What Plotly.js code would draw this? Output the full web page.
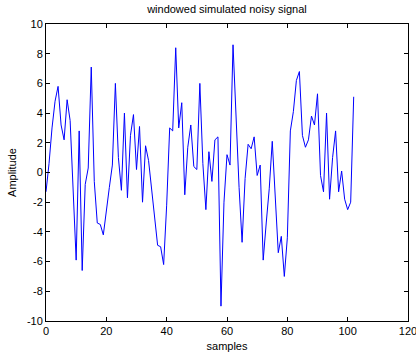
<!DOCTYPE html>
<html>
<head>
<meta charset="utf-8">
<script src="https://cdn.plot.ly/plotly-3.0.1.min.js"></script>
<style>
  html, body { margin: 0; padding: 0; background: #ffffff; }
  #chart { width: 416px; height: 356px; }
</style>
</head>
<body>
<div id="chart"></div>
<script>
// Sample index (0..102)
const samples = [
  0, 1, 2, 3, 4, 5, 6, 7, 8, 9,
  10, 11, 12, 13, 14, 15, 16, 17, 18, 19,
  20, 21, 22, 23, 24, 25, 26, 27, 28, 29,
  30, 31, 32, 33, 34, 35, 36, 37, 38, 39,
  40, 41, 42, 43, 44, 45, 46, 47, 48, 49,
  50, 51, 52, 53, 54, 55, 56, 57, 58, 59,
  60, 61, 62, 63, 64, 65, 66, 67, 68, 69,
  70, 71, 72, 73, 74, 75, 76, 77, 78, 79,
  80, 81, 82, 83, 84, 85, 86, 87, 88, 89,
  90, 91, 92, 93, 94, 95, 96, 97, 98, 99,
  100, 101, 102
];

// Amplitude values
const amplitude = [
  -1.3, 0.6, 3.0, 4.8, 5.8, 3.2, 2.2, 4.9, 3.5, -1.3,
  -5.9, 2.8, -6.6, -0.8, 0.3, 7.1, -0.6, -3.4, -3.5, -4.2,
  -2.4, -1.0, 0.5, 6.0, 1.0, -1.2, 4.0, -1.7, 2.5, 3.9,
  0.2, 3.1, -2.0, 1.8, 0.8, -1.1, -3.0, -4.9, -5.0, -6.2,
  -2.2, 3.0, 2.8, 8.4, 3.0, 4.7, -1.5, 1.7, 3.2, 0.4,
  0.2, 6.0, 0.6, -2.5, 1.4, -0.6, 2.2, 2.4, -9.0, -2.0,
  1.2, 0.5, 8.6, 3.6, -1.0, -4.7, -0.4, 1.9, 1.6, 2.4,
  -0.2, 0.5, -5.9, -3.4, -1.1, 2.1, -2.0, -5.4, -4.3, -7.0,
  -4.4, 2.8, 4.1, 6.2, 6.8, 2.5, 1.7, 2.2, 3.8, 3.2,
  5.3, -0.2, -1.3, 4.0, -1.8, 1.0, 2.8, -1.3, 0.1, -1.8,
  -2.5, -2.0, 5.1
];

const xTicks = [0, 20, 40, 60, 80, 100, 120];
const yTicks = [-10, -8, -6, -4, -2, 0, 2, 4, 6, 8, 10];

const FONT = '"Liberation Sans", Arial, Helvetica, sans-serif';

const trace = {
  x: samples,
  y: amplitude,
  type: 'scatter',
  mode: 'lines',
  line: { color: '#0000ff', width: 1 },
  hoverinfo: 'skip'
};

const axisCommon = {
  showline: true,
  linecolor: '#000000',
  linewidth: 1,
  mirror: 'ticks',
  ticks: 'inside',
  ticklen: 4,
  tickwidth: 1,
  tickcolor: '#000000',
  showgrid: false,
  zeroline: false,
  automargin: false,
  ticklabeloverflow: 'allow',
  tickfont: { family: FONT, size: 11, color: '#000000' }
};

const layout = {
  width: 416,
  height: 356,
  margin: { l: 46, r: 8, t: 24, b: 35, pad: 0 },
  paper_bgcolor: '#ffffff',
  plot_bgcolor: '#ffffff',
  showlegend: false,
  title: {
    text: 'windowed simulated noisy signal',
    font: { family: FONT, size: 11, color: '#000000' },
    x: 0.5455,
    xanchor: 'center',
    y: 0.975,
    yanchor: 'middle'
  },
  xaxis: Object.assign({}, axisCommon, {
    range: [0, 120],
    tickvals: xTicks,
    ticktext: xTicks.map(String),
    title: { text: 'samples', font: { family: FONT, size: 11, color: '#000000' }, standoff: 6 }
  }),
  yaxis: Object.assign({}, axisCommon, {
    range: [-10, 10],
    tickvals: yTicks,
    ticktext: yTicks.map(String),
    title: { text: 'Amplitude', font: { family: FONT, size: 11, color: '#000000' }, standoff: 8 }
  })
};

Plotly.newPlot('chart', [trace], layout, { displayModeBar: false, staticPlot: true });
</script>
</body>
</html>
